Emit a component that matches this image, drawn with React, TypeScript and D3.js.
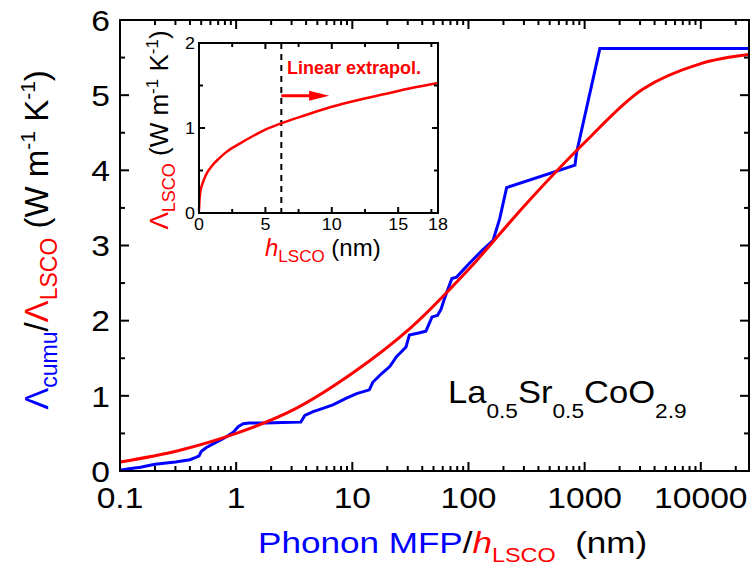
import React from 'react';
import * as d3 from 'd3';

// ---------------- Data ----------------
const redX = [0.1, 0.316, 1, 3.16, 10, 31.6, 100, 316, 1000, 3160, 10000, 26000];
const redY = [0.12, 0.27, 0.5, 0.82, 1.3, 1.9, 2.68, 3.56, 4.37, 5.08, 5.42, 5.54];

const blueX = [0.1, 0.12, 0.15, 0.2, 0.3, 0.4, 0.45, 0.48, 0.5, 0.55, 0.65, 0.75, 0.85, 0.95, 1.04, 1.15, 1.3, 1.8, 2.5, 3.6, 3.9, 4.6, 5.5, 6.8, 8.9, 10.9, 14, 15, 18, 21, 24, 29, 31, 38, 43, 48.6, 54, 58, 63, 67, 72, 79, 100, 130, 163, 186, 213, 826, 851, 1352, 26000];
const blueY = [0.01, 0.03, 0.05, 0.09, 0.12, 0.15, 0.18, 0.2, 0.26, 0.31, 0.37, 0.42, 0.47, 0.52, 0.59, 0.63, 0.64, 0.64, 0.645, 0.65, 0.74, 0.79, 0.83, 0.88, 0.97, 1.03, 1.08, 1.18, 1.3, 1.39, 1.52, 1.65, 1.81, 1.84, 1.86, 2.05, 2.07, 2.15, 2.32, 2.43, 2.56, 2.58, 2.75, 2.93, 3.07, 3.36, 3.77, 4.07, 4.23, 5.62, 5.62];

const xTickValues = [0.1, 1, 10, 100, 1000, 10000];
const xTickLabels = ['0.1', '1', '10', '100', '1000', '10000'];
const yTickValues = [0, 1, 2, 3, 4, 5, 6];
const yTickLabels = ['0', '1', '2', '3', '4', '5', '6'];

const insetX = [0, 0.05, 0.1, 0.25, 0.5, 1, 1.5, 2, 3, 4, 5, 6.2, 8, 10, 12, 14, 16, 18];
const insetY = [0.03, 0.18, 0.25, 0.34, 0.44, 0.56, 0.64, 0.71, 0.81, 0.9, 0.98, 1.055, 1.15, 1.25, 1.33, 1.4, 1.47, 1.53];
const insetXTicks = [0, 5, 10, 15, 18];
const insetXTickLabels = ['0', '5', '10', '15', '18'];
const insetXMinor = [2.5, 7.5, 12.5, 17.5];
const insetYTicks = [0, 1, 2];
const insetYTickLabels = ['0', '1', '2'];
const insetYMinor = [0.5, 1.5];
const dashedX = 6.2;
const arrowX = [6.2, 9.8];
const arrowY = 1.38;

// ---------------- Layout ----------------
const W = 751, H = 569;
const M = { left: 120, right: 749, top: 20, bottom: 471 };
const I = { left: 199, right: 438, top: 43, bottom: 213 };
const SX = 1.12;
const FONT = '"Liberation Sans", Arial, Helvetica, sans-serif';
const BLUE = '#0000ff';
const RED = '#ff0000';

export default function App() {
  const x = d3.scaleLog().domain([0.1, 26000]).range([M.left, M.right]);
  const y = d3.scaleLinear().domain([0, 6]).range([M.bottom, M.top]);
  const ix = d3.scaleLinear().domain([0, 18]).range([I.left, I.right]);
  const iy = d3.scaleLinear().domain([0, 2]).range([I.bottom, I.top]);

  const redData = redX.map((v, i) => [v, redY[i]] as [number, number]);
  const blueData = blueX.map((v, i) => [v, blueY[i]] as [number, number]);
  const insetData = insetX.map((v, i) => [v, insetY[i]] as [number, number]);

  const redLine = d3.line<[number, number]>().x(d => x(d[0])).y(d => y(d[1])).curve(d3.curveCatmullRom.alpha(0.5))(redData) || '';
  const blueLine = d3.line<[number, number]>().x(d => x(d[0])).y(d => y(d[1]))(blueData) || '';
  const insetLine = d3.line<[number, number]>().x(d => ix(d[0])).y(d => iy(d[1])).curve(d3.curveMonotoneX)(insetData) || '';

  const xMinor: number[] = [];
  for (const dec of [0.1, 1, 10, 100, 1000, 10000]) {
    for (let k = 2; k <= 9; k++) {
      const v = k * dec;
      if (v <= 26000) xMinor.push(v);
    }
  }
  const yMinor = d3.range(0.5, 6, 1);

  const maj = 9, mnr = 5;
  const imaj = 6, imnr = 4;

  const ax0 = ix(arrowX[0]);
  const ax1 = ix(arrowX[1]);
  const ay = iy(arrowY);

  return (
    <svg width={W} height={H} style={{ position: 'absolute', left: 0, top: 0, background: '#fff' }} fontFamily={FONT}>
      <rect x={0} y={0} width={W} height={H} fill="#fff" />
      {/* main curves */}
      <path d={blueLine} fill="none" stroke={BLUE} strokeWidth={3} />
      <path d={redLine} fill="none" stroke={RED} strokeWidth={3} />

      {/* main frame ticks */}
      <g stroke="#000" strokeWidth={2}>
        {xTickValues.map(v => (
          <g key={'xt' + v}>
            <line x1={x(v)} x2={x(v)} y1={M.bottom} y2={M.bottom - maj} />
            <line x1={x(v)} x2={x(v)} y1={M.top} y2={M.top + maj} />
          </g>
        ))}
        {xMinor.map(v => (
          <g key={'xm' + v}>
            <line x1={x(v)} x2={x(v)} y1={M.bottom} y2={M.bottom - mnr} />
            <line x1={x(v)} x2={x(v)} y1={M.top} y2={M.top + mnr} />
          </g>
        ))}
        {yTickValues.map(v => (
          <g key={'yt' + v}>
            <line x1={M.left} x2={M.left + maj} y1={y(v)} y2={y(v)} />
            <line x1={M.right} x2={M.right - maj} y1={y(v)} y2={y(v)} />
          </g>
        ))}
        {yMinor.map(v => (
          <g key={'ym' + v}>
            <line x1={M.left} x2={M.left + mnr} y1={y(v)} y2={y(v)} />
            <line x1={M.right} x2={M.right - mnr} y1={y(v)} y2={y(v)} />
          </g>
        ))}
        <rect x={M.left} y={M.top} width={M.right - M.left} height={M.bottom - M.top} fill="none" />
      </g>

      {/* main tick labels */}
      {xTickValues.map((v, i) => (
        <g key={'xl' + v} transform={`translate(${x(v)},508) scale(${SX},1)`}>
          <text x={0} y={0} fontSize={30} textAnchor="middle" fill="#000">{xTickLabels[i]}</text>
        </g>
      ))}
      {yTickValues.map((v, i) => (
        <g key={'yl' + v} transform={`translate(110,${y(v) + 10.7}) scale(${SX},1)`}>
          <text x={0} y={0} fontSize={30} textAnchor="end" fill="#000">{yTickLabels[i]}</text>
        </g>
      ))}

      {/* main x label */}
      <g transform={`translate(258,553) scale(1.17,1)`}>
        <text x={0} y={0} fontSize={30} style={{ whiteSpace: 'pre' }}>
          <tspan fill={BLUE}>Phonon MFP</tspan>
          <tspan fill="#000">/</tspan>
          <tspan fill={RED} fontStyle="italic">h</tspan>
          <tspan fill={RED} fontSize={20} dy={9}>LSCO</tspan>
          <tspan fill="#000" dy={-9}>{'  (nm)'}</tspan>
        </text>
      </g>

      {/* main y label */}
      <g transform="translate(48,240) rotate(-90)">
        <text x={0} y={0} fontSize={33} textAnchor="middle" style={{ whiteSpace: 'pre' }}>
          <tspan fill={BLUE}>Λ</tspan>
          <tspan fill={BLUE} fontSize={23} dy={9}>cumu</tspan>
          <tspan fill="#000" dy={-9}>/</tspan>
          <tspan fill={RED}>Λ</tspan>
          <tspan fill={RED} fontSize={23} dy={9}>LSCO</tspan>
          <tspan fill="#000" dy={-9}>{' (W m'}</tspan>
          <tspan fill="#000" fontSize={21} dy={-13}>-1</tspan>
          <tspan fill="#000" dy={13}>{' K'}</tspan>
          <tspan fill="#000" fontSize={21} dy={-13}>-1</tspan>
          <tspan fill="#000" dy={13}>)</tspan>
        </text>
      </g>

      {/* compound label */}
      <g transform={`translate(448,403) scale(1.08,1)`}>
        <text x={0} y={0} fontSize={32} fill="#000">
          <tspan>La</tspan>
          <tspan fontSize={21} dy={15}>0.5</tspan>
          <tspan dy={-15}>Sr</tspan>
          <tspan fontSize={21} dy={15}>0.5</tspan>
          <tspan dy={-15}>CoO</tspan>
          <tspan fontSize={21} dy={15}>2.9</tspan>
        </text>
      </g>

      {/* ---------- inset ---------- */}
      <line x1={ix(dashedX)} x2={ix(dashedX)} y1={I.top} y2={I.bottom} stroke="#000" strokeWidth={2} strokeDasharray="6,5" />
      <path d={insetLine} fill="none" stroke={RED} strokeWidth={2.5} />
      <line x1={ax0} x2={ax1 - 16} y1={ay} y2={ay} stroke={RED} strokeWidth={3} />
      <path d={`M${ax1},${ay} L${ax1 - 20},${ay - 5} L${ax1 - 20},${ay + 5} Z`} fill={RED} />
      <text x={ix(6.63)} y={74} fontSize={18} fontWeight="bold" fill={RED}>Linear extrapol.</text>

      <g stroke="#000" strokeWidth={2}>
        {insetXTicks.slice(0, 4).map(v => (
          <g key={'ixt' + v}>
            <line x1={ix(v)} x2={ix(v)} y1={I.bottom} y2={I.bottom - imaj} />
            <line x1={ix(v)} x2={ix(v)} y1={I.top} y2={I.top + imaj} />
          </g>
        ))}
        {insetXMinor.map(v => (
          <g key={'ixm' + v}>
            <line x1={ix(v)} x2={ix(v)} y1={I.bottom} y2={I.bottom - imnr} />
            <line x1={ix(v)} x2={ix(v)} y1={I.top} y2={I.top + imnr} />
          </g>
        ))}
        {insetYTicks.map(v => (
          <g key={'iyt' + v}>
            <line x1={I.left} x2={I.left + imaj} y1={iy(v)} y2={iy(v)} />
            <line x1={I.right} x2={I.right - imaj} y1={iy(v)} y2={iy(v)} />
          </g>
        ))}
        {insetYMinor.map(v => (
          <g key={'iym' + v}>
            <line x1={I.left} x2={I.left + imnr} y1={iy(v)} y2={iy(v)} />
            <line x1={I.right} x2={I.right - imnr} y1={iy(v)} y2={iy(v)} />
          </g>
        ))}
        <rect x={I.left} y={I.top} width={I.right - I.left} height={I.bottom - I.top} fill="none" />
      </g>

      {insetXTicks.map((v, i) => (
        <g key={'ixl' + v} transform={`translate(${ix(v)},230) scale(${SX},1)`}>
          <text x={0} y={0} fontSize={16} textAnchor="middle" fill="#000">{insetXTickLabels[i]}</text>
        </g>
      ))}
      {insetYTicks.map((v, i) => (
        <g key={'iyl' + v} transform={`translate(195,${iy(v) + 5.7}) scale(${SX},1)`}>
          <text x={0} y={0} fontSize={16} textAnchor="end" fill="#000">{insetYTickLabels[i]}</text>
        </g>
      ))}

      <g transform="translate(265,256)">
        <text x={0} y={0} fontSize={24} style={{ whiteSpace: 'pre' }}>
          <tspan fill={RED} fontStyle="italic">h</tspan>
          <tspan fill={RED} fontSize={17} dy={6}>LSCO</tspan>
          <tspan fill="#000" dy={-6}>{' (nm)'}</tspan>
        </text>
      </g>

      <g transform="translate(168,130) rotate(-90)">
        <text x={0} y={0} fontSize={26} textAnchor="middle" style={{ whiteSpace: 'pre' }}>
          <tspan fill={RED}>Λ</tspan>
          <tspan fill={RED} fontSize={18} dy={7}>LSCO</tspan>
          <tspan fill="#000" dy={-7}>{' (W m'}</tspan>
          <tspan fill="#000" fontSize={17} dy={-10}>-1</tspan>
          <tspan fill="#000" dy={10}>{' K'}</tspan>
          <tspan fill="#000" fontSize={17} dy={-10}>-1</tspan>
          <tspan fill="#000" dy={10}>)</tspan>
        </text>
      </g>
    </svg>
  );
}
